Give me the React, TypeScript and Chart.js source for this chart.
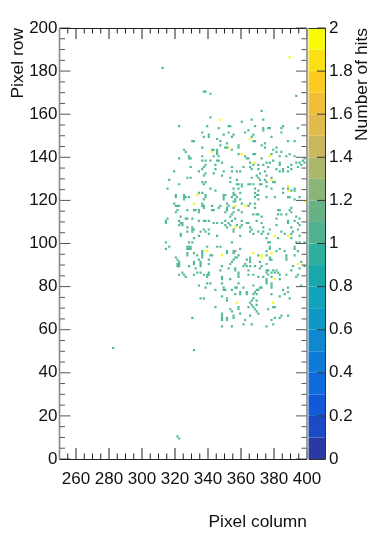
import React, { useEffect, useRef } from "react";
import { Chart, registerables } from "chart.js";

Chart.register(...registerables);

const xTickValues = [260, 280, 300, 320, 340, 360, 380, 400];
const yTickValues = [0, 20, 40, 60, 80, 100, 120, 140, 160, 180, 200];
const zTickValues = [0, 0.2, 0.4, 0.6, 0.8, 1, 1.2, 1.4, 1.6, 1.8, 2];
const bandColors = [
  "#2b3aa3", "#1a4bc4", "#1159d6", "#0f6bd9", "#107bd6", "#0f88ce", "#0f98c4", "#12a2bb", "#19a8aa", "#2fb09d",
  "#52b191", "#68b184", "#8bb578", "#abb86c", "#c9b85e", "#e0bb4c", "#f1be38", "#fccb22", "#fbe016", "#f9f90a",
];
const xTitle = "Pixel column";
const yTitle = "Pixel row";
const zTitle = "Number of hits";

const doubleHits: number[][] = [
  [389,186],[347,157],[365,148],[352,144],[342,142],[360,141],[377,140],[368,137],[378,129],[388,126],[388,124],
  [333,122],[398,119],[331,118],[356,117],[362,117],[356,107],[380,103],[388,103],[339,96],[367,95],[378,95],
  [348,94],[372,94],[372,93],[394,90],[380,83],[357,72],[379,72],
];
const singleHits: number[][] = [
  [282,51],[331,50],[321,10],[322,9],[312,181],[337,170],[338,170],[341,169],[393,168],
  [372,161],[341,158],[366,157],[373,157],[360,156],[322,154],[339,154],[352,154],[353,154],[368,154],[385,154],
  [346,153],[373,153],[376,153],[377,153],[384,153],[394,153],[364,152],[373,152],[336,151],[352,151],[362,151],[384,151],
  [340,150],[349,150],[355,150],[367,150],[337,149],[340,149],[354,149],[366,149],[378,149],[345,148],
  [330,147],[331,147],[347,147],[367,147],[368,147],[388,147],[392,147],[351,146],[374,146],[347,145],[358,145],[372,145],
  [336,144],[350,144],[351,144],[358,144],[374,144],[381,144],[325,143],[342,143],[343,143],[345,143],[354,143],[379,143],
  [326,142],[345,142],[381,142],[384,142],[345,141],[358,141],[367,141],[368,141],[378,141],[389,141],
  [328,140],[336,140],[343,140],[346,140],[362,140],[383,140],[387,140],[392,140],
  [322,139],[328,139],[329,139],[363,139],[364,139],[372,139],[398,139],
  [336,138],[338,138],[341,138],[345,138],[346,138],[379,138],[397,138],
  [348,137],[365,137],[375,137],[377,137],[383,137],[393,137],[395,137],[398,137],
  [338,136],[344,136],[367,136],[370,136],[373,136],[383,136],[390,136],[396,136],
  [329,135],[337,135],[354,135],[361,135],[365,135],[376,135],[388,135],[394,135],
  [336,134],[344,134],[366,134],[370,134],[381,134],[385,134],[390,134],
  [319,133],[334,133],[349,133],[354,133],[357,133],[359,133],[374,133],[383,133],[385,133],[388,133],
  [338,132],[343,132],[371,132],[337,131],[348,131],[369,131],[375,131],
  [327,130],[329,130],[353,130],[366,130],[370,130],[378,130],[316,129],[357,129],[371,129],[374,129],
  [336,128],[338,128],[353,128],[375,128],[379,128],[380,128],
  [322,127],[337,127],[357,127],[358,127],[360,127],[364,127],[365,127],[367,127],[371,127],[372,127],
  [360,126],[375,126],[315,125],[341,125],[355,125],[358,125],[368,125],[378,125],[385,125],[388,125],[392,125],
  [344,124],[370,124],[390,124],[392,124],[334,123],[336,123],[355,123],[359,123],[368,123],[385,123],
  [320,122],[325,122],[338,122],[349,122],[350,122],[355,122],[356,122],[369,122],[370,122],
  [320,121],[325,121],[326,121],[328,121],[338,121],[349,121],[354,121],[357,121],[368,121],[375,121],[380,121],[388,121],[389,121],[395,121],
  [325,120],[337,120],[349,120],[356,120],[359,120],[370,120],[392,120],[355,119],[356,119],
  [319,118],[336,118],[351,118],[360,118],[365,118],[368,118],
  [320,117],[321,117],[322,117],[336,117],[337,117],[342,117],[347,117],[352,117],[364,117],
  [337,116],[346,116],[351,116],[355,116],[368,116],[390,116],
  [321,115],[327,115],[331,115],[332,115],[334,115],[342,115],[343,115],[351,115],[358,115],[382,115],[383,115],[389,115],
  [320,114],[334,114],[350,114],[355,114],[360,114],[390,114],
  [354,113],[367,113],[369,113],[370,113],[382,113],[384,113],[387,113],
  [323,112],[353,112],[372,112],[393,112],[315,111],[326,111],[327,111],[330,111],[356,111],[381,111],[395,111],
  [314,110],[322,110],[334,110],[337,110],[338,110],[340,110],[350,110],[354,110],[360,110],[369,110],[388,110],[392,110],
  [314,109],[323,109],[324,109],[343,109],[345,109],[348,109],[352,109],[363,109],[364,109],[372,109],[388,109],[394,109],
  [322,108],[324,108],[350,108],[353,108],[357,108],[360,108],[381,108],[395,108],
  [327,107],[330,107],[351,107],[359,107],[365,107],[373,107],[390,107],
  [330,106],[331,106],[337,106],[340,106],[355,106],[366,106],[377,106],[394,106],
  [327,105],[330,105],[335,105],[338,105],[355,105],[365,105],[370,105],[373,105],[384,105],[391,105],
  [323,104],[340,104],[367,104],[372,104],[376,104],[386,104],[390,104],
  [323,103],[334,103],[345,103],[359,103],[395,103],[331,102],[375,102],[382,102],[390,102],
  [314,100],[328,100],[330,100],[354,100],[376,100],[377,100],[393,100],[395,100],[398,100],
  [316,98],[327,98],[328,98],[329,98],[339,98],[345,98],[347,98],[377,98],[392,98],
  [314,97],[327,97],[328,97],[329,97],[359,97],[377,97],[383,97],[392,97],
  [336,96],[351,96],[355,96],[356,96],[375,96],[381,96],[386,96],[394,96],
  [327,95],[331,95],[336,95],[351,95],[355,95],[327,94],[333,94],[336,94],[341,94],[342,94],[358,94],[370,94],[375,94],[387,94],[392,94],
  [320,93],[336,93],[356,93],[357,93],[365,93],[377,93],[387,93],
  [321,92],[334,92],[340,92],[355,92],[363,92],[365,92],[377,92],[378,92],[387,92],
  [322,91],[331,91],[335,91],[354,91],[365,91],[371,91],[396,91],
  [321,90],[322,90],[331,90],[335,90],[340,90],[353,90],[362,90],[375,90],
  [321,89],[322,89],[328,89],[335,89],[348,89],[361,89],[363,89],[365,89],[368,89],[372,89],[391,89],[398,89],
  [332,88],[352,88],[356,88],[371,88],[395,88],[347,87],[356,87],[364,87],[375,87],[376,87],[379,87],[381,87],[390,87],
  [324,86],[333,86],[335,86],[340,86],[358,86],[375,86],[378,86],[380,86],[382,86],
  [322,85],[325,85],[331,85],[337,85],[339,85],[340,85],[358,85],[364,85],[367,85],[376,85],[383,85],[387,85],[394,85],
  [326,84],[339,84],[348,84],[358,84],[370,84],[373,84],[378,84],[393,84],
  [348,83],[353,83],[375,83],[383,83],[375,82],[339,81],[341,81],[348,81],[358,81],[375,81],[378,81],
  [334,80],[367,80],[378,80],[396,80],[338,79],[349,79],[356,79],[357,79],[361,79],[371,79],[372,79],[378,79],[388,79],
  [344,78],[349,78],[350,78],[354,78],[369,78],[370,78],[385,78],[359,77],[363,77],[368,77],[388,77],
  [356,76],[359,76],[363,76],[367,76],[369,76],[378,76],[386,76],[348,75],[383,75],
  [335,74],[337,74],[351,74],[367,74],[389,74],[351,73],[366,73],[369,73],[365,72],[366,71],[369,71],
  [344,70],[358,70],[364,70],[367,70],[379,70],[380,70],[353,69],[358,69],[368,69],[376,69],[354,68],[369,68],
  [348,67],[359,67],[370,67],[348,66],[355,66],[365,66],[384,66],[388,66],
  [330,65],[348,65],[351,65],[355,65],[380,65],[383,65],[348,64],[351,64],[362,64],[378,64],
  [361,62],[366,62],[379,62],[348,61],[354,61],[375,61],
];

const FONT = "'Liberation Sans', Arial, sans-serif";
const INK = "#111111";
const TITLE_SIZE = 17.4;

const frameAndScale = {
  id: "frameAndScale",
  afterDatasetsDraw(chart: any) {
    const { ctx, chartArea: area, scales } = chart;
    const { x, y, z } = scales;
    ctx.save();
    const barLeft = area.right + 1.5;
    const barRight = area.right + 18.5;
    bandColors.forEach((color, i) => {
      const top = z.getPixelForValue(((i + 1) * 2) / bandColors.length);
      const bottom = z.getPixelForValue((i * 2) / bandColors.length);
      ctx.fillStyle = color;
      ctx.fillRect(barLeft, top, barRight - barLeft, bottom - top);
    });
    ctx.strokeStyle = "#333333";
    ctx.lineWidth = 1;
    ctx.beginPath();
    ctx.moveTo(barLeft, area.top + 0.5);
    ctx.lineTo(barRight, area.top + 0.5);
    ctx.moveTo(barRight, area.top);
    ctx.lineTo(barRight, area.bottom);
    ctx.moveTo(barLeft, area.bottom + 0.5);
    ctx.lineTo(barRight, area.bottom + 0.5);
    for (const v of zTickValues) {
      const py = z.getPixelForValue(v);
      ctx.moveTo(barRight, py);
      ctx.lineTo(barRight - 8.5, py);
    }
    ctx.stroke();

    ctx.strokeStyle = "#222222";
    ctx.beginPath();
    for (let v = 250; v <= 400; v += 5) {
      const px = x.getPixelForValue(v);
      const len = v % 20 === 0 ? 11 : 5.5;
      ctx.moveTo(px, area.bottom);
      ctx.lineTo(px, area.bottom - len);
      ctx.moveTo(px, area.top);
      ctx.lineTo(px, area.top + len);
    }
    ctx.stroke();
    ctx.strokeStyle = "#555555";
    ctx.beginPath();
    for (let v = 0; v <= 200; v += 5) {
      const py = y.getPixelForValue(v);
      const len = v % 20 === 0 ? 11 : 5.5;
      ctx.moveTo(area.left, py);
      ctx.lineTo(area.left + len, py);
      ctx.moveTo(area.right, py);
      ctx.lineTo(area.right - len, py);
    }
    ctx.stroke();

    ctx.strokeStyle = "#222222";
    ctx.beginPath();
    ctx.moveTo(area.left, area.top + 0.5);
    ctx.lineTo(area.right, area.top + 0.5);
    ctx.moveTo(area.left, area.bottom + 0.5);
    ctx.lineTo(area.right, area.bottom + 0.5);
    ctx.stroke();
    ctx.strokeStyle = "#8a8a8a";
    ctx.lineWidth = 1.6;
    ctx.beginPath();
    ctx.moveTo(area.left, area.top);
    ctx.lineTo(area.left, area.bottom);
    ctx.moveTo(area.right, area.top);
    ctx.lineTo(area.right, area.bottom);
    ctx.stroke();

    ctx.translate(362, area.top);
    ctx.rotate(-Math.PI / 2);
    ctx.fillStyle = INK;
    ctx.font = `${TITLE_SIZE}px ${FONT}`;
    ctx.textAlign = "right";
    ctx.textBaseline = "middle";
    ctx.fillText(zTitle, 0, 0);
    ctx.restore();
  },
};

const noScalePadding = (s: any) => {
  s.paddingTop = 0;
  s.paddingBottom = 0;
  s.paddingLeft = 0;
  s.paddingRight = 0;
};

export default function App() {
  const ref = useRef<HTMLCanvasElement>(null);
  useEffect(() => {
    const font = { family: FONT, size: 17 };
    const titleFont = { family: FONT, size: TITLE_SIZE };
    const chart = new Chart(ref.current!, {
      type: "scatter",
      data: {
        datasets: [
          {
            data: singleHits.map(([x, y]) => ({ x: x + 0.5, y: y + 0.5 })),
            backgroundColor: "#52ba98",
            pointStyle: "rect",
            pointRadius: 1.55,
            borderWidth: 0,
            xAxisID: "x",
            yAxisID: "y",
          },
          {
            data: doubleHits.map(([x, y]) => ({ x: x + 0.5, y: y + 0.5 })),
            backgroundColor: "#f9f90a",
            pointStyle: "rect",
            pointRadius: 1.55,
            borderWidth: 0,
            xAxisID: "x",
            yAxisID: "y",
          },
        ],
      },
      options: {
        animation: false,
        responsive: false,
        devicePixelRatio: 1,
        layout: { padding: { top: 28, left: 0, right: 0, bottom: 0 } },
        plugins: { legend: { display: false }, title: { display: false }, tooltip: { enabled: false } },
        scales: {
          x: {
            type: "linear",
            position: "bottom",
            min: 250,
            max: 400,
            grid: { display: false, drawTicks: false },
            border: { display: false },
            afterBuildTicks: (s: any) => {
              s.ticks = xTickValues.map((value) => ({ value }));
            },
            ticks: { font, color: INK, padding: 10, autoSkip: false, maxRotation: 0, callback: (v: any) => String(v) },
            title: { display: true, text: xTitle, align: "end", font: titleFont, color: INK, padding: 14 },
            afterFit: (s: any) => {
              s.height = 88;
              noScalePadding(s);
            },
          },
          y: {
            type: "linear",
            position: "left",
            min: 0,
            max: 200,
            grid: { display: false, drawTicks: false },
            border: { display: false },
            afterBuildTicks: (s: any) => {
              s.ticks = yTickValues.map((value) => ({ value }));
            },
            ticks: { font, color: INK, padding: 2, autoSkip: false, callback: (v: any) => String(v) },
            title: { display: true, text: yTitle, align: "end", font: titleFont, color: INK, padding: 8 },
            afterFit: (s: any) => {
              s.width = 59.5;
              noScalePadding(s);
            },
          },
          z: {
            type: "linear",
            position: "right",
            min: 0,
            max: 2,
            grid: { display: false, drawTicks: false, drawOnChartArea: false },
            border: { display: false },
            afterBuildTicks: (s: any) => {
              s.ticks = zTickValues.map((value) => ({ value }));
            },
            ticks: { font, color: INK, padding: 22, autoSkip: false, callback: (v: any) => String(Number(v).toFixed(1)).replace(/\.0$/, "") },
            afterFit: (s: any) => {
              s.width = 67;
              noScalePadding(s);
            },
          },
        },
      },
      plugins: [frameAndScale],
    } as any);
    return () => chart.destroy();
  }, []);
  return (
    <div style={{ position: "fixed", left: 0, top: 0, width: 374, height: 547, background: "#ffffff" }}>
      <canvas ref={ref} width={374} height={547} style={{ display: "block" }} />
    </div>
  );
}
